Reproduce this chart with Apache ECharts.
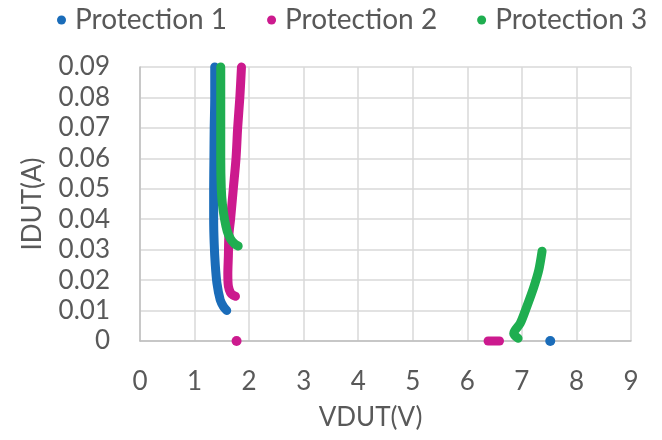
<!DOCTYPE html>
<html>
<head>
<meta charset="utf-8">
<script src="https://cdn.jsdelivr.net/npm/echarts@6/dist/echarts.min.js"></script>
<style>html,body{margin:0;padding:0;background:#fff;}#c{width:662px;height:440px;}</style>
</head>
<body>
<div id="c"></div>
<script>
// Protection 1
const p1V = [1.37, 1.37, 1.36, 1.355, 1.35, 1.35, 1.36, 1.38, 1.41, 1.47, 1.53, 1.59];
const p1I = [0.09, 0.08, 0.07, 0.06, 0.05, 0.04, 0.032, 0.025, 0.019, 0.0135, 0.0113, 0.0100];
const p1DotV = [7.52];
const p1DotI = [0];
// Protection 2
const p2V = [1.86, 1.83, 1.79, 1.76, 1.71, 1.66, 1.63, 1.62, 1.61, 1.62, 1.66, 1.71, 1.75];
const p2I = [0.09, 0.08, 0.07, 0.06, 0.05, 0.04, 0.035, 0.028, 0.022, 0.018, 0.0158, 0.015, 0.0147];
const p2DotV = [1.77];
const p2DotI = [0];
const p2DashV = [6.38, 6.59];
const p2DashI = [0, 0];
// Protection 3
const p3aV = [1.48, 1.48, 1.48, 1.48, 1.49, 1.51, 1.55, 1.60, 1.66, 1.73, 1.80];
const p3aI = [0.09, 0.08, 0.07, 0.06, 0.05, 0.045, 0.040, 0.036, 0.0335, 0.032, 0.0312];
const p3bV = [6.93, 6.85, 6.97, 7.09, 7.22, 7.31, 7.37];
const p3bI = [0.0009, 0.0025, 0.0058, 0.0113, 0.0178, 0.0233, 0.0295];

const names = ['Protection 1', 'Protection 2', 'Protection 3'];
const colors = ['#1a6cb9', '#cc1a8e', '#1fae50'];
const xTicks = [0, 1, 2, 3, 4, 5, 6, 7, 8, 9];
const yTicks = [0, 0.01, 0.02, 0.03, 0.04, 0.05, 0.06, 0.07, 0.08, 0.09];

const zip = (a, b) => a.map((v, i) => [v, b[i]]);
const W = 9;
function curve(idx, V, I) {
  return {
    name: names[idx], type: 'line', data: zip(V, I), showSymbol: false, smooth: 0.3,
    clip: false, color: colors[idx],
    itemStyle: {color: colors[idx]},
    lineStyle: {color: colors[idx], width: W, cap: 'round', join: 'round'},
    emphasis: {disabled: true}, animation: false, z: 2 + idx
  };
}
function dots(idx, V, I) {
  return {
    name: names[idx], type: 'scatter', data: zip(V, I), symbol: 'circle', symbolSize: W + 1,
    clip: false, itemStyle: {color: colors[idx], opacity: 1}, emphasis: {disabled: true}, animation: false, z: 2 + idx
  };
}
const font = 'Lato';
const txt = '#595959';
const chart = echarts.init(document.getElementById('c'), null, {renderer: 'canvas'});
chart.setOption({
  animation: false,
  legend: {
    data: names, top: 1, left: 52, icon: 'circle', itemWidth: 9, itemHeight: 9, itemGap: 40,
    textStyle: {fontFamily: font, fontSize: 28, color: txt, padding: [0, 0, 0, 4]}
  },
  grid: {left: 140, right: 31, top: 67, bottom: 99, outerBoundsMode: 'none', containLabel: false},
  xAxis: {
    type: 'value', min: xTicks[0], max: xTicks[xTicks.length - 1], interval: 1,
    name: 'VDUT(V)', nameLocation: 'middle', nameGap: 64,
    nameTextStyle: {fontFamily: font, fontSize: 26, color: txt, padding: [0, 30, 0, 0]},
    axisLine: {show: true, lineStyle: {color: '#bfbfbf', width: 1.5}},
    axisTick: {show: false},
    splitLine: {show: true, lineStyle: {color: '#d9d9d9', width: 1.5}},
    axisLabel: {fontFamily: font, fontSize: 26, color: txt, margin: 28}
  },
  yAxis: {
    type: 'value', min: yTicks[0], max: yTicks[yTicks.length - 1], interval: 0.01,
    name: 'IDUT(A)', nameLocation: 'middle', nameGap: 94, nameRotate: 90,
    nameTextStyle: {fontFamily: font, fontSize: 26, color: txt},
    axisLine: {show: true, lineStyle: {color: '#bfbfbf', width: 1.5}},
    axisTick: {show: false},
    splitLine: {show: true, lineStyle: {color: '#d9d9d9', width: 1.5}},
    axisLabel: {fontFamily: font, fontSize: 26, color: txt, margin: 30,
      formatter: v => (Math.round(v * 100) / 100).toString()}
  },
  series: [
    curve(0, p1V, p1I), dots(0, p1DotV, p1DotI),
    curve(1, p2V, p2I), dots(1, p2DotV, p2DotI), curve(1, p2DashV, p2DashI),
    curve(2, p3aV, p3aI), curve(2, p3bV, p3bI)
  ]
});
</script>
</body>
</html>
